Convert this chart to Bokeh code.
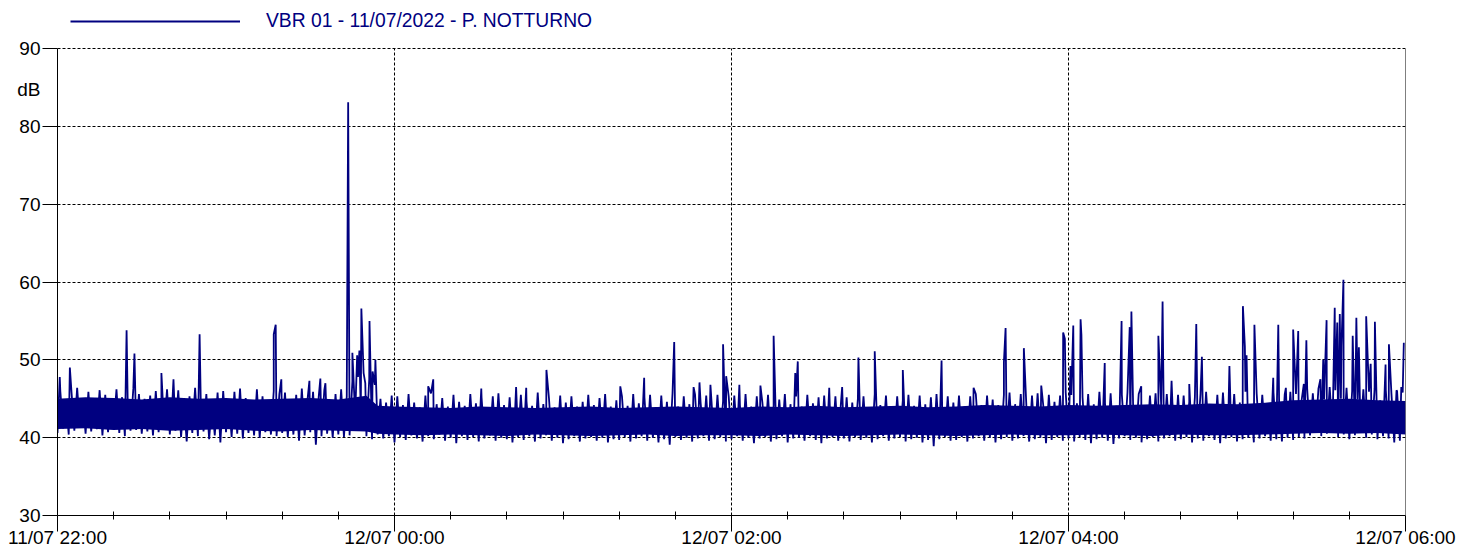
from bokeh.plotting import figure
from bokeh.models import Range1d, FixedTicker
from bokeh.embed import file_html
from bokeh.resources import INLINE

# ---- data (minutes after 11/07 22:00, level in dB) ----
series_name = "VBR 01 - 11/07/2022 - P. NOTTURNO"
unit_label = "dB"
unit_label_level = 84.73
tick_minutes = [0, 120, 240, 360, 480]
tick_labels = ["11/07 22:00", "12/07 00:00", "12/07 02:00", "12/07 04:00", "12/07 06:00"]
minor_minutes = [20, 40, 60, 80, 100, 140, 160, 180, 200, 220, 260, 280, 300, 320, 340,
                 380, 400, 420, 440, 460]
y_ticks = [30, 40, 50, 60, 70, 80, 90]

# dense core of the trace
core_min = [0, 10, 20, 30, 40, 50, 60, 70, 80, 90, 100, 110, 114,
            120, 130, 140, 150, 160, 170, 180, 190, 200, 210, 220, 230, 240, 250, 260, 270,
            280, 290, 300, 310, 320, 330, 340, 350, 360, 370, 380, 390, 400, 410, 420, 430,
            440, 450, 460, 470, 480]
core_lo = [41.1, 41.2, 41.0, 41.1, 40.9, 41.0, 41.1, 40.9, 40.8, 41.0, 40.9, 40.8, 40.5,
           40.4, 40.3, 40.4, 40.3, 40.2, 40.4, 40.3, 40.2, 40.3, 40.4, 40.2, 40.3, 40.3, 40.2,
           40.4, 40.3, 40.2, 40.3, 40.4, 40.3, 40.2, 40.3, 40.4, 40.3, 40.3, 40.4, 40.3, 40.2,
           40.4, 40.3, 40.3, 40.4, 40.5, 40.6, 40.5, 40.6, 40.4]
core_hi = [45.0, 45.2, 45.1, 44.9, 45.2, 45.0, 45.1, 44.9, 45.0, 45.1, 44.9, 45.4, 44.1,
           44.0, 43.9, 43.8, 44.0, 43.9, 43.8, 43.9, 44.0, 43.8, 43.9, 44.0, 43.9, 43.8, 44.0,
           43.9, 44.1, 43.9, 44.0, 44.1, 43.9, 44.0, 44.2, 44.1, 44.0, 44.2, 44.1, 44.2, 44.3,
           44.2, 44.4, 44.3, 44.5, 44.8, 44.9, 45.0, 44.8, 44.7]

# 2-minute bins: upper and lower excursions of the level
band_hi = [
    46.0, 44.8, 45.8, 46.4, 45.1, 45.9, 44.7, 46.1, 45.5, 44.9, 46.2, 45.2, 44.6, 46.3, 45.6, 45.0, 45.4, 46.0, 44.8, 46.2,
    45.3, 46.1, 44.7, 45.3, 46.4, 45.0, 45.6, 44.6, 45.8, 46.0, 44.9, 45.9, 46.3, 45.1, 44.7, 46.2, 45.3, 44.8, 46.0, 45.6,
    45.8, 44.9, 45.5, 46.3, 44.8, 45.9, 45.2, 46.1, 44.7, 45.6, 46.2, 45.3, 47.2, 47.8, 48.3, 47.5, 46.8, 45.0, 44.5, 45.4,
    45.3, 44.2, 45.6, 44.5, 43.9, 45.4, 45.7, 44.3, 45.1, 44.0, 45.5, 44.6, 44.1, 45.6, 44.4, 45.2, 43.9, 45.3, 45.7, 44.2,
    45.2, 44.0, 45.5, 44.7, 44.1, 45.8, 44.3, 45.1, 43.9, 45.4, 44.5, 45.3, 44.0, 44.6, 45.5, 44.2, 45.1, 45.6, 44.0, 44.8,
    45.3, 44.1, 45.6, 44.4, 45.2, 45.5, 43.9, 45.4, 44.6, 45.7, 44.0, 45.3, 44.3, 45.6, 44.5, 45.4, 44.0, 45.5, 44.7, 45.3,
    45.4, 44.2, 45.6, 44.0, 45.3, 44.5, 45.5, 44.1, 44.9, 45.6, 44.3, 45.3, 44.0, 45.5, 44.4, 45.2, 45.4, 44.1, 45.3, 44.6,
    45.2, 44.5, 45.0, 45.3, 43.9, 45.6, 44.2, 45.4, 44.0, 45.3, 44.8, 45.5, 44.1, 45.4, 44.3, 45.2, 45.6, 44.0, 45.3, 44.5,
    45.4, 44.0, 45.3, 45.6, 44.2, 45.4, 44.9, 44.2, 45.5, 45.8, 44.3, 45.6, 44.1, 45.4, 45.7, 44.2, 45.5, 44.6, 45.4, 45.8,
    45.5, 44.4, 45.2, 45.6, 44.3, 45.9, 44.4, 45.7, 44.1, 45.5, 45.8, 44.3, 45.6, 44.0, 45.4, 45.7, 44.2, 45.6, 44.5, 45.5,
    45.4, 44.6, 45.2, 45.6, 45.9, 44.3, 45.5, 45.8, 44.2, 45.6, 44.5, 45.9, 44.3, 45.7, 45.5, 44.2, 45.8, 44.4, 45.6, 45.9,
    45.6, 44.8, 46.2, 45.7, 46.3, 44.9, 46.5, 46.1, 45.0, 46.4, 46.0, 44.9, 46.2, 45.9, 46.3, 44.8, 46.1, 45.6, 46.0, 45.8,
]
band_lo = [
    40.6, 41.2, 40.4, 40.9, 41.3, 40.5, 40.8, 41.1, 40.3, 40.7, 41.4, 40.6, 40.2, 40.9, 41.0, 40.5, 40.8, 40.3, 40.7, 41.1,
    40.4, 40.9, 40.1, 39.5, 40.6, 40.2, 40.8, 39.8, 40.3, 39.4, 40.7, 40.1, 40.5, 39.9, 40.6, 40.3, 40.0, 40.7, 40.4, 40.2,
    40.6, 40.1, 40.4, 39.6, 40.3, 40.7, 39.1, 40.2, 40.5, 40.0, 40.4, 40.1, 40.3, 42.8, 43.0, 40.2, 39.8, 40.4, 39.9, 40.2,
    39.4, 40.1, 39.7, 40.3, 39.9, 39.5, 40.2, 39.8, 40.4, 39.6, 40.0, 39.3, 40.2, 39.7, 40.1, 39.5, 39.9, 40.3, 39.6, 40.0,
    39.8, 39.4, 40.1, 39.7, 40.2, 39.5, 39.9, 40.3, 39.6, 40.0, 39.3, 39.8, 40.2, 39.5, 39.9, 40.1, 39.6, 40.0, 39.4, 39.8,
    39.7, 40.1, 39.5, 39.9, 40.2, 39.6, 40.0, 39.4, 39.8, 39.1, 40.1, 39.7, 40.0, 39.5, 39.9, 40.2, 39.6, 39.8, 40.1, 39.5,
    39.8, 40.2, 39.6, 40.0, 39.3, 39.9, 40.1, 39.5, 39.8, 40.2, 39.4, 39.9, 40.0, 39.6, 40.2, 39.7, 39.3, 39.9, 40.1, 39.6,
    39.9, 39.5, 40.1, 39.7, 40.0, 39.4, 39.8, 40.2, 39.6, 39.9, 40.1, 39.5, 39.8, 40.0, 39.4, 39.7, 38.9, 39.8, 40.1, 39.6,
    39.7, 40.1, 39.5, 39.9, 40.2, 39.6, 40.0, 39.4, 39.8, 40.1, 39.6, 39.9, 40.2, 39.5, 39.8, 40.0, 39.3, 39.7, 40.1, 39.6,
    39.9, 39.5, 40.1, 39.7, 39.3, 39.8, 40.0, 39.6, 39.2, 39.9, 40.2, 39.7, 40.0, 39.4, 39.8, 40.1, 39.5, 39.9, 40.2, 39.6,
    39.8, 40.1, 39.4, 39.9, 39.6, 40.2, 39.7, 39.3, 39.9, 40.1, 39.5, 39.8, 40.0, 39.4, 39.9, 40.2, 39.6, 39.8, 39.5, 40.0,
    39.7, 40.1, 39.9, 40.3, 40.6, 40.2, 40.5, 40.8, 40.1, 40.4, 39.8, 40.3, 40.6, 40.0, 40.4, 39.8, 40.2, 39.9, 39.4, 39.6,
]

# isolated peaks
spike_min = [0.8, 4.4, 24.6, 27.4, 37.0, 41.3, 50.6, 77.0, 77.7, 79.7, 89.7, 93.6, 95.4,
             103.5, 105.0, 106.7, 107.5, 108.2, 109.6, 111.1, 112.2, 113.2,
             132.0, 133.8, 150.9, 163.3, 166.9, 174.1, 200.4, 208.9, 219.6, 226.5, 228.6, 232.5,
             237.0, 238.1, 242.8, 250.3, 255.0, 262.7, 263.6, 274.8, 279.4, 285.2, 291.0, 301.0,
             314.8, 326.2, 337.0, 337.6, 344.1, 350.3, 358.1, 358.7, 360.7, 361.7, 364.3, 364.6,
             372.9, 378.9, 381.8, 382.4, 385.9, 392.0, 393.5, 396.7, 403.0, 405.5, 407.5, 417.3,
             422.1, 422.8, 423.4, 426.2, 432.9, 434.7, 437.4, 440.0, 441.8, 443.8, 444.7, 449.7,
             450.7, 451.9, 454.8, 455.7, 456.6, 457.2, 457.9, 461.2, 462.5, 463.4, 466.0, 467.6,
             469.1, 472.9, 474.1, 476.8, 478.5, 479.4]
spike_db = [47.8, 49.0, 53.8, 50.8, 48.3, 47.5, 53.3, 53.3, 54.5, 47.5, 47.3, 47.6, 47.0,
            83.1, 50.9, 50.6, 51.2, 56.6, 47.0, 55.0, 48.5, 50.0,
            46.6, 47.5, 46.3, 46.5, 46.4, 48.7, 46.6, 47.7, 52.3, 46.5, 47.1, 46.8,
            52.0, 47.9, 46.8, 46.7, 53.1, 48.3, 49.8, 46.4, 46.5, 50.3, 51.1, 48.7,
            49.9, 46.4, 49.7, 54.1, 51.5, 46.7, 53.5, 52.7, 49.2, 54.4, 55.2, 53.2,
            49.6, 55.0, 54.2, 56.2, 46.6, 53.1, 57.5, 47.3, 46.9, 54.6, 50.4, 49.2,
            56.9, 51.7, 50.6, 54.5, 47.7, 54.5, 46.4, 53.9, 53.7, 46.9, 52.5, 47.5,
            50.0, 55.1, 56.7, 54.8, 55.9, 51.8, 60.3, 53.1, 55.4, 51.6, 55.6, 49.5,
            54.9, 49.4, 52.0, 46.1, 46.5, 52.2]

# ---- assemble the trace (time-ordered samples) ----
pts = []
for i in range(len(band_hi)):
    pts.append((2 * i, band_lo[i]))
    pts.append((2 * i + 1, band_hi[i]))
pts += list(zip(spike_min, spike_db))
pts.sort(key=lambda q: q[0])
xs = [q[0] for q in pts]
ys = [q[1] for q in pts]

FONT = "Liberation Sans"
NAVY = "#000080"

# the frame reaches the top of the canvas so that the legend line sits inside it;
# axes, grid and border are bounded to the 30-90 dB data area
y_top = y_ticks[-1] + 48 * (y_ticks[-1] - y_ticks[0]) / 467.0

p = figure(width=1460, height=551, output_backend="svg", toolbar_location=None,
           x_range=Range1d(tick_minutes[0], tick_minutes[-1]), y_range=Range1d(y_ticks[0], y_top),
           min_border_left=57, min_border_right=55, min_border_top=0, min_border_bottom=36)
p.outline_line_color = None
p.background_fill_color = "white"
p.border_fill_color = "white"

# vertical grid lines (dashed) bounded to the data area, and the solid right border
n = len(tick_minutes)
p.segment(x0=tick_minutes[1:-1], y0=[y_ticks[0]] * (n - 2), x1=tick_minutes[1:-1], y1=[y_ticks[-1]] * (n - 2),
          line_color="black", line_dash="3 2", line_width=1)
p.segment(x0=[tick_minutes[-1]], y0=[y_ticks[0]], x1=[tick_minutes[-1]], y1=[y_ticks[-1]],
          line_color="black", line_width=1)

p.varea(x=core_min, y1=core_lo, y2=core_hi, fill_color=NAVY)
p.line(xs, ys, line_color=NAVY, line_width=1.8, legend_label=series_name)

xt = FixedTicker(ticks=tick_minutes, minor_ticks=minor_minutes)
yt = FixedTicker(ticks=y_ticks, minor_ticks=[])
xa = p.xaxis[0]
ya = p.yaxis[0]
xa.ticker = xt
xa.major_label_overrides = {t: l for t, l in zip(tick_minutes, tick_labels)}
# y axis: labelled values (incl. the unit) as major ticks, tick marks drawn as minor ticks
ya.ticker = FixedTicker(ticks=y_ticks + [unit_label_level], minor_ticks=y_ticks)
ya_over = {t: str(t) for t in y_ticks}
ya_over[unit_label_level] = unit_label
ya.major_label_overrides = ya_over
ya.bounds = (y_ticks[0], y_ticks[-1])
for ax in (xa, ya):
    ax.axis_line_color = "black"
    ax.major_tick_line_color = "black"
    ax.minor_tick_line_color = "black"
    ax.major_label_text_font = FONT
    ax.major_label_text_font_size = "19px"
    ax.major_label_text_color = "black"
    ax.major_tick_in = 0
xa.major_tick_out = 16
xa.minor_tick_in = 4
xa.minor_tick_out = 4
xa.major_label_standoff = -5
ya.major_tick_line_color = None
ya.major_tick_out = 0
ya.minor_tick_in = 0
ya.minor_tick_out = 15
ya.major_label_standoff = 2

p.xgrid.visible = False
p.ygrid.ticker = yt
g = p.ygrid[0]
g.grid_line_color = "black"
g.grid_line_dash = "3 2"
g.grid_line_width = 1

lg = p.legend[0]
lg.location = (13, 481)
lg.orientation = "horizontal"
lg.glyph_width = 170
lg.glyph_height = 26
lg.label_height = 26
lg.label_standoff = 26
lg.label_text_font = FONT
lg.label_text_font_size = "19.3px"
lg.label_text_color = NAVY
lg.padding = 0
lg.margin = 0
lg.spacing = 0
lg.border_line_color = None
lg.background_fill_alpha = 0

open("out.html", "w").write(file_html(p, INLINE))
